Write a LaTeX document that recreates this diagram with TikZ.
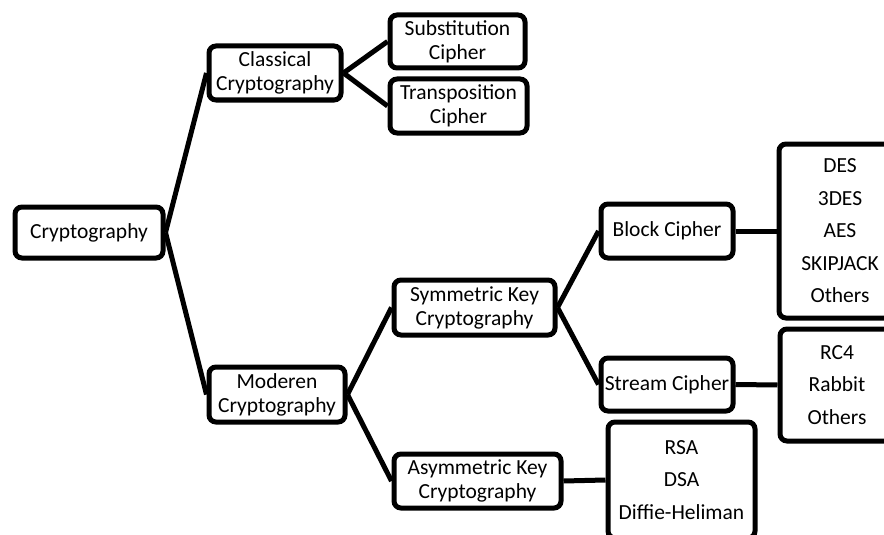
\documentclass[tikz,border=0pt]{standalone}
\usepackage{fontspec}
\setmainfont{Carlito}
\usetikzlibrary{positioning}

\begin{document}
\begin{tikzpicture}[x=1pt,y=-1pt,
    box/.style={draw, line width=5pt, rounded corners=7pt, align=center, inner sep=1pt, font=\fontsize{21.5}{24}\selectfont},
    lst/.style={box, font=\fontsize{21.5}{32.5}\selectfont},
    link/.style={line width=5pt}]
    \useasboundingbox (0,0) rectangle (884,535);
    \clip (0,0) rectangle (884,535);

    \def\colA{89}
    \def\colB{276}
    \def\colD{667}

    % first two levels
    \node[box, minimum width=148pt, minimum height=51pt] (crypto) at (\colA,232.5) {Cryptography};
    \node[box, minimum width=132pt, minimum height=54pt] (classic) at (275,73) {Classical\\Cryptography};
    \node[box, minimum width=136pt, minimum height=55pt] (modern) at (277,394.5) {Moderen\\Cryptography};

    \node[box, minimum width=135pt, minimum height=53pt] (subst) at (457.5,41.5) {Substitution\\Cipher};
    \node[box, minimum width=137pt, minimum height=54pt] (transp) at (458.5,106) {Transposition\\Cipher};

    \node[box, minimum width=161pt, minimum height=55pt] (symkey) at (474.5,307.5) {Symmetric Key\\Cryptography};
    \node[box, minimum width=167pt, minimum height=54pt] (asymkey) at (477.5,481) {Asymmetric Key\\Cryptography};

    \node[box, minimum width=132pt, minimum height=54pt] (block) at (\colD,231) {Block Cipher};
    \node[box, minimum width=132pt, minimum height=53pt] (stream) at (\colD,384.5) {Stream Cipher};

    % lists of algorithms
    \node[lst, minimum width=122pt, minimum height=174pt] (blocklst) at (840,231) {DES\\3DES\\AES\\SKIPJACK\\Others};
    \node[lst, minimum width=114pt, minimum height=112pt] (streamlst) at (837,385) {RC4\\Rabbit\\Others};
    \node[lst, minimum width=147pt, minimum height=116pt] (asymlst) at (681.5,480) {RSA\\DSA\\Diffie-Heliman};

    \draw[link] (crypto.east) -- (classic.west);
    \draw[link] (crypto.east) -- (modern.west);
    \draw[link] (classic.east) -- (subst.west);
    \draw[link] (classic.east) -- (transp.west);
    \draw[link] (modern.east) -- (symkey.west);
    \draw[link] (modern.east) -- (asymkey.west);
    \draw[link] (symkey.east) -- (block.west);
    \draw[link] (symkey.east) -- (stream.west);
    \draw[link] (block.east) -- (blocklst.west);
    \draw[link] (stream.east) -- (streamlst.west);
    \draw[link] (asymkey.east) -- (asymlst.west);

\end{tikzpicture}
\end{document}
